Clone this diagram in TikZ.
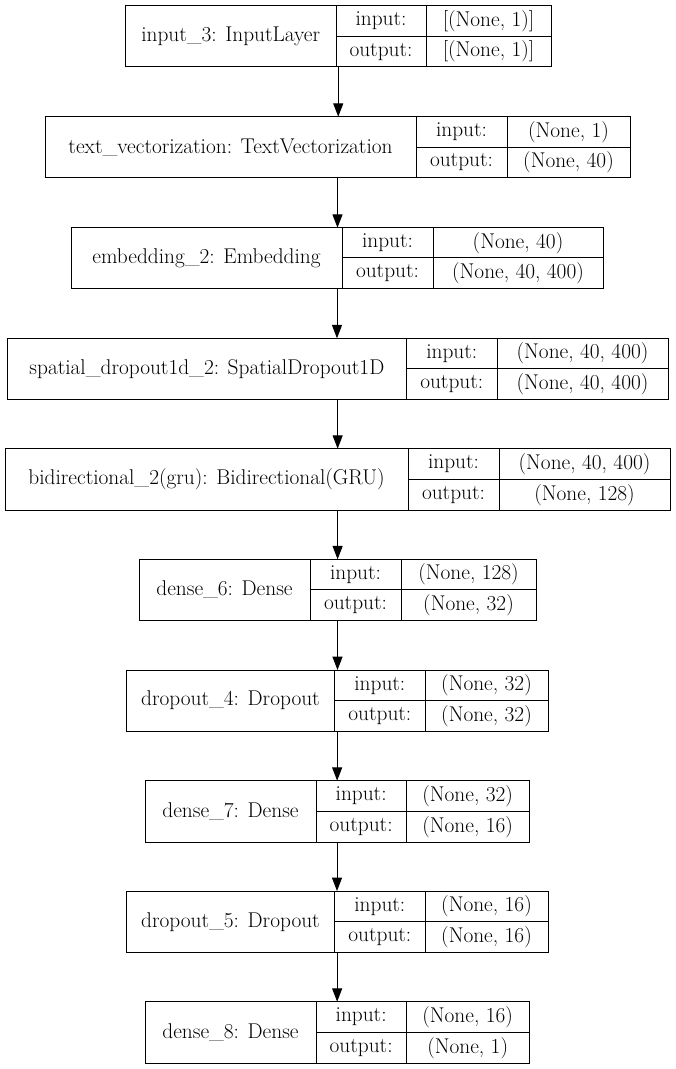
\documentclass[tikz,border=0pt]{standalone}
\usetikzlibrary{arrows.meta}
\begin{document}
\begin{tikzpicture}[x=0.75pt,y=-0.75pt,
  cell/.style={inner sep=0pt, font=\fontsize{16}{18}\selectfont},
  box/.style={draw=black, line width=0.75pt, inner sep=0pt, outer sep=0pt, anchor=north west},
  ln/.style={draw=black, line width=0.75pt},
  arr/.style={draw=black, line width=0.75pt, -{Triangle[length=10pt,width=7.5pt]}}]
\useasboundingbox (0,0) rectangle (675,1069);
\foreach \n/\xl/\xa/\xb/\xr/\yt/\yb/\lab/\vin/\vout in {
 l1/125.5/336/426/551/5.7/67/{input\_3: InputLayer}/{[(None, 1)]}/{[(None, 1)]},
 l2/45/416/507/630/116.7/177.7/{text\_vectorization: TextVectorization}/{(None, 1)}/{(None, 40)},
 l3/71/342/433/603/227.7/288.3/{embedding\_2: Embedding}/{(None, 40)}/{(None, 40, 400)},
 l4/7.3/406.5/497/668/338.3/399/{spatial\_dropout1d\_2: SpatialDropout1D}/{(None, 40, 400)}/{(None, 40, 400)},
 l5/5.2/408/499/670/448.7/510/{bidirectional\_2(gru): Bidirectional(GRU)}/{(None, 40, 400)}/{(None, 128)},
 l6/139/310/401/536/559.3/620.3/{dense\_6: Dense}/{(None, 128)}/{(None, 32)},
 l7/126.3/334.7/425/548/670/731/{dropout\_4: Dropout}/{(None, 32)}/{(None, 32)},
 l8/145/316/406.3/529/780.7/842/{dense\_7: Dense}/{(None, 32)}/{(None, 16)},
 l9/126.3/334.7/425/548/891/952.7/{dropout\_5: Dropout}/{(None, 16)}/{(None, 16)},
 l10/145/316/406.3/529/1001.7/1063.3/{dense\_8: Dense}/{(None, 16)}/{(None, 1)}
}{
  \pgfmathsetmacro\bw{(\xr-\xl)*0.75}
  \pgfmathsetmacro\bh{(\yb-\yt)*0.75}
  \pgfmathsetmacro\ym{(\yt+\yb)/2}
  \node[box, minimum width=\bw pt, minimum height=\bh pt] (\n) at (\xl,\yt) {};
  \draw[ln] (\xa,\yt) -- (\xa,\yb);
  \draw[ln] (\xb,\yt) -- (\xb,\yb);
  \draw[ln] (\xa,\ym) -- (\xr,\ym);
  \node[cell] (\n-lab) at ({(\xl+\xa)/2},\ym) {\lab};
  \node[cell] (\n-ik) at ({(\xa+\xb)/2},{(\yt+\ym)/2}) {input:};
  \node[cell] (\n-ok) at ({(\xa+\xb)/2},{(\ym+\yb)/2}) {output:};
  \node[cell] (\n-iv) at ({(\xb+\xr)/2},{(\yt+\ym)/2}) {\vin};
  \node[cell] (\n-ov) at ({(\xb+\xr)/2},{(\ym+\yb)/2}) {\vout};
}
\foreach \a/\b in {l1/l2,l2/l3,l3/l4,l4/l5,l5/l6,l6/l7,l7/l8,l8/l9,l9/l10}{
  \draw[arr] (\a.south) -- (\a.south |- \b.north);
}
\end{tikzpicture}
\end{document}
